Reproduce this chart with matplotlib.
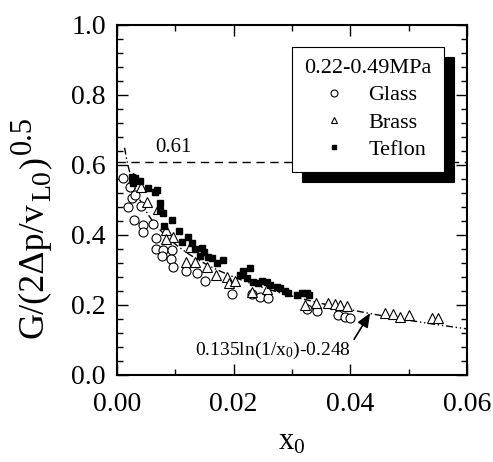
import numpy as np
import matplotlib
matplotlib.use("Agg")
import matplotlib.pyplot as plt
from matplotlib.lines import Line2D
from matplotlib.ticker import MultipleLocator, FormatStrFormatter

plt.rcParams['font.family'] = ['Liberation Serif', 'DejaVu Serif']
plt.rcParams['mathtext.fontset'] = 'custom'
plt.rcParams['mathtext.rm'] = 'Liberation Serif'
plt.rcParams['mathtext.it'] = 'Liberation Serif:italic'

glass_x = [0.00098, 0.00223, 0.00252, 0.00194, 0.00309, 0.00411, 0.00291, 0.00441, 0.00451,
           0.00612, 0.00669, 0.00669, 0.00783, 0.00766, 0.00938, 0.00921, 0.00955, 0.01183,
           0.01366, 0.0151, 0.01966, 0.02309, 0.02451, 0.02594, 0.03252, 0.03434, 0.03794,
           0.03909, 0.03994]
glass_y = [0.562, 0.538, 0.505, 0.479, 0.514, 0.483, 0.443, 0.429, 0.409,
           0.431, 0.391, 0.359, 0.357, 0.340, 0.357, 0.331, 0.309, 0.298,
           0.292, 0.269, 0.231, 0.231, 0.224, 0.219, 0.188, 0.183, 0.171,
           0.167, 0.164]

brass_x = [0.00279, 0.00406, 0.00509, 0.00708, 0.00840, 0.00955, 0.00840, 0.01251, 0.01183,
           0.01337, 0.01538, 0.01697, 0.01881, 0.01925, 0.02023, 0.02309, 0.02566, 0.03223,
           0.03411, 0.03622, 0.03737, 0.03823, 0.03938, 0.04594, 0.04737, 0.04851, 0.05011,
           0.05395, 0.05508]
brass_y = [0.562, 0.538, 0.495, 0.474, 0.414, 0.393, 0.388, 0.367, 0.324,
           0.324, 0.309, 0.286, 0.281, 0.262, 0.270, 0.238, 0.245, 0.200,
           0.207, 0.207, 0.203, 0.200, 0.197, 0.176, 0.174, 0.167, 0.171,
           0.162, 0.162]

teflon_x = [0.00252, 0.00309, 0.00394, 0.00269, 0.00537, 0.00651, 0.00691, 0.00737, 0.00737,
            0.00794, 0.00938, 0.00806, 0.01068, 0.01222, 0.01109, 0.01281, 0.01337, 0.01452,
            0.01491, 0.01423, 0.01565, 0.01623, 0.01709, 0.01822, 0.02165, 0.02280, 0.02109,
            0.02223, 0.02337, 0.02422, 0.02480, 0.02566, 0.02623, 0.02738, 0.02794, 0.02880,
            0.02937, 0.03081, 0.03166, 0.03252, 0.03297]
teflon_y = [0.565, 0.562, 0.555, 0.548, 0.534, 0.524, 0.529, 0.491, 0.471,
            0.462, 0.443, 0.426, 0.411, 0.393, 0.381, 0.376, 0.360, 0.362,
            0.351, 0.340, 0.338, 0.333, 0.320, 0.329, 0.297, 0.305, 0.286,
            0.277, 0.267, 0.262, 0.270, 0.267, 0.256, 0.251, 0.248, 0.240,
            0.233, 0.229, 0.233, 0.235, 0.229]

limit_value = 0.61
fit_a, fit_b = 0.135, -0.248
fit_range = (0.0013, 0.06)

W, H = 493, 462
fig = plt.figure(figsize=(W / 100, H / 100), dpi=100)
ax = fig.add_axes([117 / W, 1 - 375 / H, 350 / W, 350 / H])

ax.plot(glass_x, glass_y, 'o', mfc='white', mec='black', ms=6.5, mew=0.8, ls='none', zorder=3)
ax.plot(brass_x, brass_y, '^', mfc='white', mec='black', ms=7.5, mew=0.8, ls='none', zorder=3)
ax.plot(teflon_x, teflon_y, 's', mfc='black', mec='black', ms=4, ls='none', zorder=4)

ax.axhline(limit_value, color='black', lw=1.0, ls=(0, (6, 4)), zorder=2)
ax.text(0.0096, 0.651, '0.61', fontsize=15, ha='center', va='center')

xf = np.linspace(fit_range[0], fit_range[1], 400)
ax.plot(xf, fit_a * np.log(1 / xf) + fit_b, color='black', lw=1.0,
        ls=(0, (5, 2, 1, 2, 1, 2)), zorder=2)

ax.annotate('0.135ln(1/x$_0$)-0.248', xy=(0.0434, 0.177), xytext=(0.0268, 0.071),
            fontsize=14, ha='center', va='center',
            arrowprops=dict(arrowstyle='-|>,head_length=0.6,head_width=0.25', color='black',
                            lw=1.2, shrinkA=0, shrinkB=0, relpos=(1.0, 0.8)))

ax.set_xlim(0, 0.06)
ax.set_ylim(0, 1.0)
ax.xaxis.set_major_locator(MultipleLocator(0.02))
ax.xaxis.set_minor_locator(MultipleLocator(0.01))
ax.yaxis.set_major_locator(MultipleLocator(0.2))
ax.yaxis.set_minor_locator(MultipleLocator(0.04))
ax.xaxis.set_major_formatter(FormatStrFormatter('%.2f'))
ax.yaxis.set_major_formatter(FormatStrFormatter('%.1f'))
ax.tick_params(which='both', direction='in', top=True, right=True, labelsize=20, width=1.0)
ax.tick_params(which='major', length=8)
ax.tick_params(axis='x', which='major', pad=12)
ax.tick_params(axis='y', which='major', pad=8)
ax.tick_params(which='minor', length=4)
for s in ax.spines.values():
    s.set_linewidth(1.5)

ax.set_xlabel('x$_0$', fontsize=22, labelpad=8)

# composite y label (rotated pieces laid end to end)
renderer = fig.canvas.get_renderer()
pieces = [('G/(2Δp/v', 26, 0, 0), ('L0', 20, 7, 1), (')', 26, 0, 2), ('0.5', 22, -12, 3)]
base_x = 43
ypos = H - 338
for txt, fs, dx, gap in pieces:
    ypos += gap
    t = fig.text((base_x + dx) / W, ypos / H, txt, fontsize=fs, rotation=90,
                 rotation_mode='anchor', ha='left', va='baseline')
    bb = t.get_window_extent(renderer)
    ypos += bb.height

handles = [Line2D([], [], marker='o', mfc='white', mec='black', ms=5, mew=0.8, ls='none'),
           Line2D([], [], marker='^', mfc='white', mec='black', ms=5, mew=0.8, ls='none'),
           Line2D([], [], marker='s', mfc='black', mec='black', ms=3, ls='none')]
leg = ax.legend(handles, ['Glass', 'Brass', 'Teflon'], title='0.22-0.49MPa',
                loc='upper right', bbox_to_anchor=(0.934, 0.937), borderaxespad=0,
                fontsize=16, title_fontsize=16, frameon=True, fancybox=False,
                edgecolor='black', framealpha=1, handlelength=2.2, handletextpad=0.45,
                labelspacing=0.3, borderpad=0.55,
                shadow={'ox': 7, 'oy': -7, 'facecolor': 'black', 'edgecolor': 'black', 'alpha': 1})
leg.get_frame().set_linewidth(0.8)

fig.savefig('out.png', dpi=100)
